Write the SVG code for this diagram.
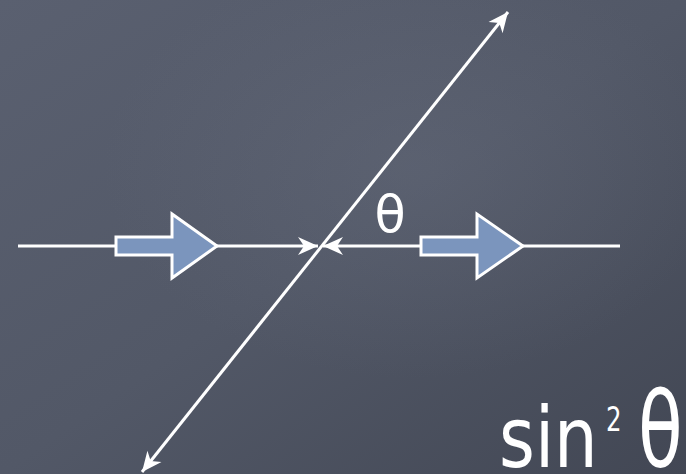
<svg xmlns="http://www.w3.org/2000/svg" width="686" height="474" viewBox="0 0 686 474">
  <defs>
    <linearGradient id="bg" x1="0" y1="0" x2="1" y2="1">
      <stop offset="0" stop-color="#5a6070"/>
      <stop offset="0.5" stop-color="#525867"/>
      <stop offset="1" stop-color="#424754"/>
    </linearGradient>
    <radialGradient id="glow" cx="0.6" cy="0.35" r="0.45">
      <stop offset="0" stop-color="#6a7080" stop-opacity="0.35"/>
      <stop offset="1" stop-color="#6a7080" stop-opacity="0"/>
    </radialGradient>
    <marker id="head" viewBox="-22 -11 24 22" refX="0" refY="0" markerWidth="24" markerHeight="22" markerUnits="userSpaceOnUse" orient="auto-start-reverse">
      <path d="M0,0 L-20,-9 L-14,0 L-20,9 Z" fill="#ffffff"/>
    </marker>
    <style>
      .ln { stroke: #ffffff; stroke-width: 3; fill: none; }
      .blk { fill: #7b95bd; stroke: #ffffff; stroke-width: 3; stroke-linejoin: miter; }
      .lbl { fill: #ffffff; font-family: "DejaVu Sans", "Noto Sans", sans-serif; }
    </style>
  </defs>
  <rect width="686" height="474" fill="url(#bg)"/>
  <rect width="686" height="474" fill="url(#glow)"/>

  <g id="connectors">
    <line class="ln" x1="142" y1="472" x2="508" y2="12" marker-start="url(#head)" marker-end="url(#head)"/>
    <line class="ln" x1="18" y1="246" x2="318" y2="246" marker-end="url(#head)"/>
    <line class="ln" x1="620" y1="246" x2="323" y2="246" marker-end="url(#head)"/>
  </g>

  <g id="incoming-arrow">
    <polygon class="blk" points="116,237 172,237 172,214 217,246 172,278 172,255 116,255"/>
  </g>
  <g id="outgoing-arrow">
    <polygon class="blk" points="421,237 477,237 477,214 523,246 477,278 477,255 421,255"/>
  </g>

  <g id="angle-label">
    <text class="lbl" x="390" y="232" font-size="51" text-anchor="middle">θ</text>
  </g>

  <g id="formula">
    <text class="lbl" font-size="84" transform="translate(499,467) scale(0.82,1)">sin</text>
    <text class="lbl" font-size="34" transform="translate(606,431) scale(0.72,1)">2</text>
    <text class="lbl" font-size="106" transform="translate(638,467) scale(0.69,1)">θ</text>
  </g>
</svg>
